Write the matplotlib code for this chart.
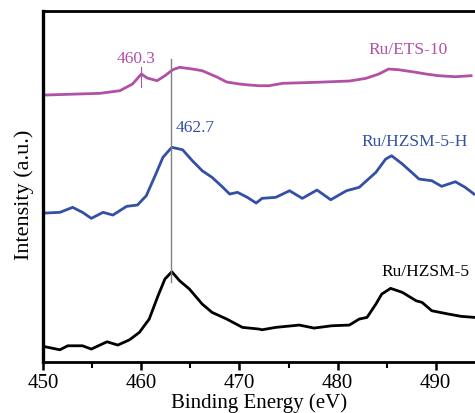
import matplotlib
matplotlib.use("Agg")
import matplotlib.pyplot as plt
from matplotlib.ticker import MultipleLocator

plt.rcParams['font.family'] = ['Liberation Serif', 'DejaVu Serif']

# Binding energy (eV) and intensity (a.u., offset per sample)
ets_x = [450.2, 455.8, 457.8, 459.1, 460.0, 460.6, 461.6, 462.4, 463.2, 463.9, 465.2,
         466.2, 467.7, 468.7, 470.0, 471.0, 472.0, 473.0, 474.4, 477.8, 481.2, 482.9,
         484.2, 485.2, 486.2, 488.0, 489.0, 490.3, 492.0, 493.6]
ets_y = [267, 268.7, 271.3, 278, 288, 284, 281.3, 286.3, 292.3, 294.7, 293,
         291.3, 285, 280, 278, 277, 276.3, 276.3, 278.7, 279.7, 281, 283.7,
         288, 293, 292.3, 289.7, 288, 286.3, 285.3, 286.3]

hzh_x = [450.2, 451.7, 453.0, 454.0, 454.9, 456.1, 457.1, 458.5, 459.6, 460.5, 461.4,
         462.2, 463.1, 464.2, 465.2, 466.2, 467.2, 468.2, 469.0, 469.8, 470.8, 471.7,
         472.3, 473.7, 475.1, 476.4, 477.9, 479.3, 480.9, 482.2, 483.9, 484.9, 485.5,
         486.6, 488.3, 489.6, 490.6, 492.0, 493.0, 493.9]
hzh_y = [149, 149.7, 154.7, 149.7, 143.7, 149.7, 147, 155.7, 157, 166.3, 186.3,
         204.7, 214.7, 212.3, 201.3, 191.3, 184.7, 175.7, 168, 169.7, 164.7, 159,
         163.7, 164.7, 171.3, 163.7, 172, 162.3, 171.3, 174.7, 189.7, 203, 206.3,
         198, 183, 181.3, 175.7, 180.3, 174.7, 168]

hz_x = [450.2, 451.7, 452.5, 454.0, 454.9, 456.5, 457.6, 458.8, 459.8, 460.8, 461.7,
        462.4, 463.1, 463.9, 464.9, 466.2, 467.2, 468.7, 470.3, 472.0, 472.3, 473.7,
        476.1, 477.6, 479.4, 481.2, 482.2, 483.0, 483.9, 484.5, 485.4, 486.6, 488.0,
        488.6, 489.6, 491.3, 492.6, 493.9]
hz_y = [15.3, 12.3, 16.3, 16.3, 13, 20.3, 17, 22.3, 29.7, 43, 66.3,
        83, 90.3, 81.3, 73, 58, 49.7, 43, 34.7, 33, 32.3, 34.7,
        37, 34, 36.3, 37, 43, 44.7, 58, 68, 73.7, 69.7, 61.3,
        59.7, 51.3, 48, 45.7, 44.7]

pink = '#B050A6'
blue = '#3450A6'

fig = plt.figure(figsize=(4.75, 4.14), dpi=100)
ax = fig.add_axes([0.091, 0.123, 0.909, 0.848])

ax.plot(ets_x, ets_y, color=pink, lw=2.0)
ax.plot(hzh_x, hzh_y, color=blue, lw=2.0)
ax.plot(hz_x, hz_y, color='black', lw=2.0)

# peak markers
ax.plot([463.0, 463.0], [80, 303], color='#808080', lw=1.0)
ax.plot([460.0, 460.0], [275, 295], color=pink, lw=0.8)

ax.text(459.5, 304.5, '460.3', color=pink, fontsize=12.5, ha='center', va='center')
ax.text(465.5, 235.5, '462.7', color=blue, fontsize=12.5, ha='center', va='center')
ax.text(487.2, 313, 'Ru/ETS-10', color=pink, fontsize=12.5, ha='center', va='center')
ax.text(487.8, 221, 'Ru/HZSM-5-H', color=blue, fontsize=12.5, ha='center', va='center')
ax.text(489.0, 91, 'Ru/HZSM-5', color='black', fontsize=12.5, ha='center', va='center')

ax.set_xlim(450, 494)
ax.set_ylim(0, 351)
ax.xaxis.set_major_locator(MultipleLocator(10))
ax.xaxis.set_minor_locator(MultipleLocator(5))
ax.tick_params(axis='x', which='major', direction='out', length=6, width=1.8, labelsize=15, pad=2)
ax.tick_params(axis='x', which='minor', direction='out', length=4, width=1.5)
ax.set_yticks([])
ax.spines['right'].set_visible(False)
ax.spines['left'].set_linewidth(2.4)
ax.spines['top'].set_linewidth(2.0)
ax.spines['bottom'].set_linewidth(2.0)

ax.set_xlabel('Binding Energy (eV)', fontsize=15, labelpad=0)
ax.set_ylabel('Intensity (a.u.)', fontsize=16)
ax.yaxis.set_label_coords(-0.022, 0.479)

fig.savefig('out.png', dpi=100)
